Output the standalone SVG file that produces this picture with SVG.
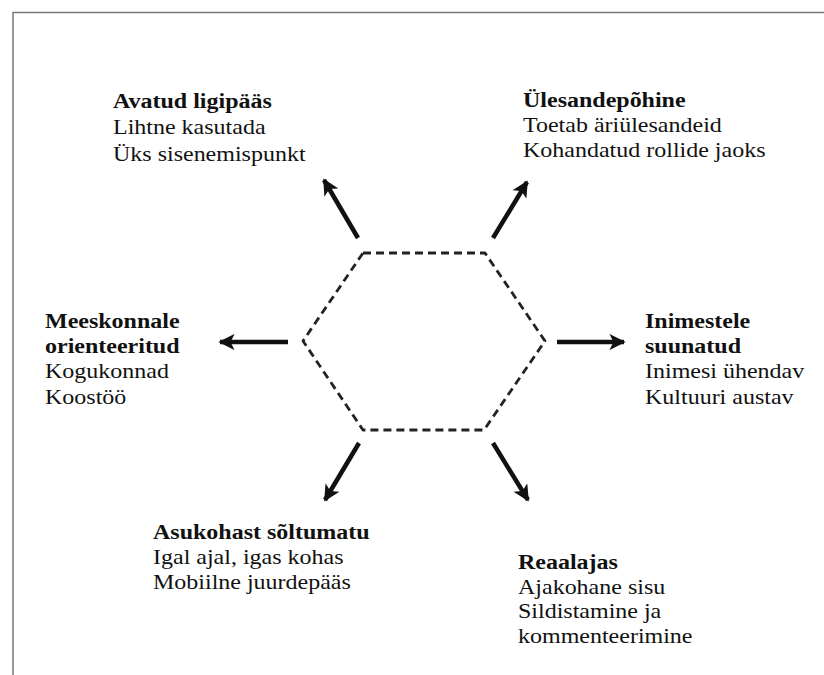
<svg xmlns="http://www.w3.org/2000/svg" width="824" height="675" viewBox="0 0 824 675">
<style>
.frame{stroke:#777;stroke-width:1.5;fill:none}
.hex{fill:none;stroke:#222;stroke-width:2.8;stroke-dasharray:8,5;stroke-linejoin:round}
.arr{stroke:#111;stroke-width:4.5;fill:none;marker-end:url(#ah)}
</style>
<defs>
<marker id="ah" viewBox="0 0 10 10" refX="9" refY="5" markerWidth="5" markerHeight="3.6" markerUnits="strokeWidth" orient="auto">
<path d="M0,0 L10,5 L0,10 L2.5,5 Z" fill="#111"/>
</marker>
</defs>
<rect width="824" height="675" fill="#fff"/>
<path class="frame" d="M13,675 V12.5 H824"/>
<g id="hexagon">
<polygon class="hex" points="363,253 485,253 545,341 484,430 363,430 303,341"/>
</g>
<g id="connectors">
<line class="arr" x1="358" y1="238" x2="324" y2="180"/>
<line class="arr" x1="493" y1="238" x2="527" y2="182"/>
<line class="arr" x1="288" y1="342" x2="220" y2="342"/>
<line class="arr" x1="557" y1="342" x2="624" y2="342"/>
<line class="arr" x1="359" y1="443" x2="325" y2="500"/>
<line class="arr" x1="493" y1="443" x2="528" y2="500"/>
</g>
<g font-family="Liberation Serif" font-size="20" fill="#111">
<g id="avatud" transform="translate(113,0) scale(1.2,1)">
<text x="0" y="108" font-weight="bold">Avatud ligipääs</text>
<text x="0" y="134">Lihtne kasutada</text>
<text x="0" y="161">Üks sisenemispunkt</text>
</g>
<g id="ulesande" transform="translate(523,0) scale(1.2,1)">
<text x="0" y="107" font-weight="bold">Ülesandepõhine</text>
<text x="0" y="132">Toetab äriülesandeid</text>
<text x="0" y="157">Kohandatud rollide jaoks</text>
</g>
<g id="meeskonnale" transform="translate(45,0) scale(1.2,1)">
<text x="0" y="328" font-weight="bold">Meeskonnale</text>
<text x="0" y="353" font-weight="bold">orienteeritud</text>
<text x="0" y="378">Kogukonnad</text>
<text x="0" y="404">Koostöö</text>
</g>
<g id="inimestele" transform="translate(645,0) scale(1.2,1)">
<text x="0" y="328" font-weight="bold">Inimestele</text>
<text x="0" y="353" font-weight="bold">suunatud</text>
<text x="0" y="378">Inimesi ühendav</text>
<text x="0" y="404">Kultuuri austav</text>
</g>
<g id="asukohast" transform="translate(153,0) scale(1.2,1)">
<text x="0" y="539" font-weight="bold">Asukohast sõltumatu</text>
<text x="0" y="564">Igal ajal, igas kohas</text>
<text x="0" y="589">Mobiilne juurdepääs</text>
</g>
<g id="reaalajas" transform="translate(518,0) scale(1.2,1)">
<text x="0" y="569" font-weight="bold">Reaalajas</text>
<text x="0" y="594">Ajakohane sisu</text>
<text x="0" y="618">Sildistamine ja</text>
<text x="0" y="643">kommenteerimine</text>
</g>
</g>
</svg>
